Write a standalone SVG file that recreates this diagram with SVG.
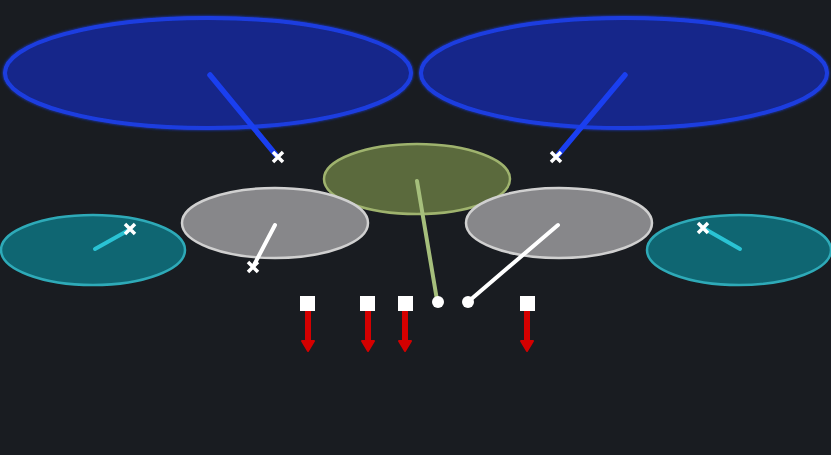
<svg xmlns="http://www.w3.org/2000/svg" width="831" height="455" viewBox="0 0 831 455">
<defs>
<style>
.blue{fill:#13268a;stroke:#1c3ee0;stroke-width:4}
.gray{fill:#87878a;stroke:#d0d0d0;stroke-width:2.5}
.olive{fill:#5b6a3d;stroke:#9fb36e;stroke-width:2.5}
.cyan{fill:#0f6672;stroke:#2eaab8;stroke-width:2.5}
.ln{stroke-linecap:round;fill:none}
.xm{stroke:#ffffff;stroke-width:3.5;stroke-linecap:butt}
.sq{fill:#ffffff}
.red{stroke:#d40000;stroke-width:6}
.rh{fill:#d40000;stroke:#d40000;stroke-width:2;stroke-linejoin:round}
</style>
<filter id="glow" x="-10%" y="-20%" width="120%" height="140%">
<feGaussianBlur in="SourceGraphic" stdDeviation="1.5" result="b"/>
<feMerge><feMergeNode in="b"/><feMergeNode in="SourceGraphic"/></feMerge>
</filter>
</defs>
<rect width="831" height="455" fill="#191c21"/>
<g id="blue-left" filter="url(#glow)"><ellipse class="blue" cx="208" cy="73" rx="203" ry="55"/></g>
<g id="blue-right" filter="url(#glow)"><ellipse class="blue" cx="624" cy="73" rx="203" ry="55"/></g>
<g id="olive-center"><ellipse class="olive" cx="417" cy="179" rx="93" ry="35"/></g>
<g id="gray-left"><ellipse class="gray" cx="275" cy="223" rx="93" ry="35"/></g>
<g id="gray-right"><ellipse class="gray" cx="559" cy="223" rx="93" ry="35"/></g>
<g id="cyan-left"><ellipse class="cyan" cx="93" cy="250" rx="92" ry="35"/></g>
<g id="cyan-right"><ellipse class="cyan" cx="739" cy="250" rx="92" ry="35"/></g>
<g id="connectors">
<line class="ln" x1="210" y1="75" x2="276" y2="155" stroke="#1a3ff0" stroke-width="5.5"/>
<line class="ln" x1="625" y1="75" x2="558" y2="155" stroke="#1a3ff0" stroke-width="5.5"/>
<line class="ln" x1="417" y1="181" x2="437" y2="300" stroke="#a6bf7c" stroke-width="4"/>
<line class="ln" x1="275" y1="225" x2="254" y2="265" stroke="#ffffff" stroke-width="4"/>
<line class="ln" x1="558" y1="225" x2="469" y2="301" stroke="#ffffff" stroke-width="4"/>
<line class="ln" x1="95" y1="249" x2="129" y2="230" stroke="#2ac3d4" stroke-width="4"/>
<line class="ln" x1="740" y1="249" x2="705" y2="229" stroke="#2ac3d4" stroke-width="4"/>
<path class="xm" d="M273 152l10 10M283 152l-10 10"/>
<path class="xm" d="M551 152l10 10M561 152l-10 10"/>
<path class="xm" d="M248 262l10 10M258 262l-10 10"/>
<path class="xm" d="M125 224l10 10M135 224l-10 10"/>
<path class="xm" d="M698 223l10 10M708 223l-10 10"/>
<circle cx="438" cy="302" r="6" fill="#ffffff"/>
<circle cx="468" cy="302" r="6" fill="#ffffff"/>
<rect class="sq" x="300" y="296" width="15" height="15"/>
<rect class="sq" x="360" y="296" width="15" height="15"/>
<rect class="sq" x="398" y="296" width="15" height="15"/>
<rect class="sq" x="520" y="296" width="15" height="15"/>
<line class="red" x1="308" y1="311" x2="308" y2="342"/>
<line class="red" x1="368" y1="311" x2="368" y2="342"/>
<line class="red" x1="405" y1="311" x2="405" y2="342"/>
<line class="red" x1="527" y1="311" x2="527" y2="342"/>
<path class="rh" d="M302 341h12l-6 10z"/>
<path class="rh" d="M362 341h12l-6 10z"/>
<path class="rh" d="M399 341h12l-6 10z"/>
<path class="rh" d="M521 341h12l-6 10z"/>
</g>
</svg>
